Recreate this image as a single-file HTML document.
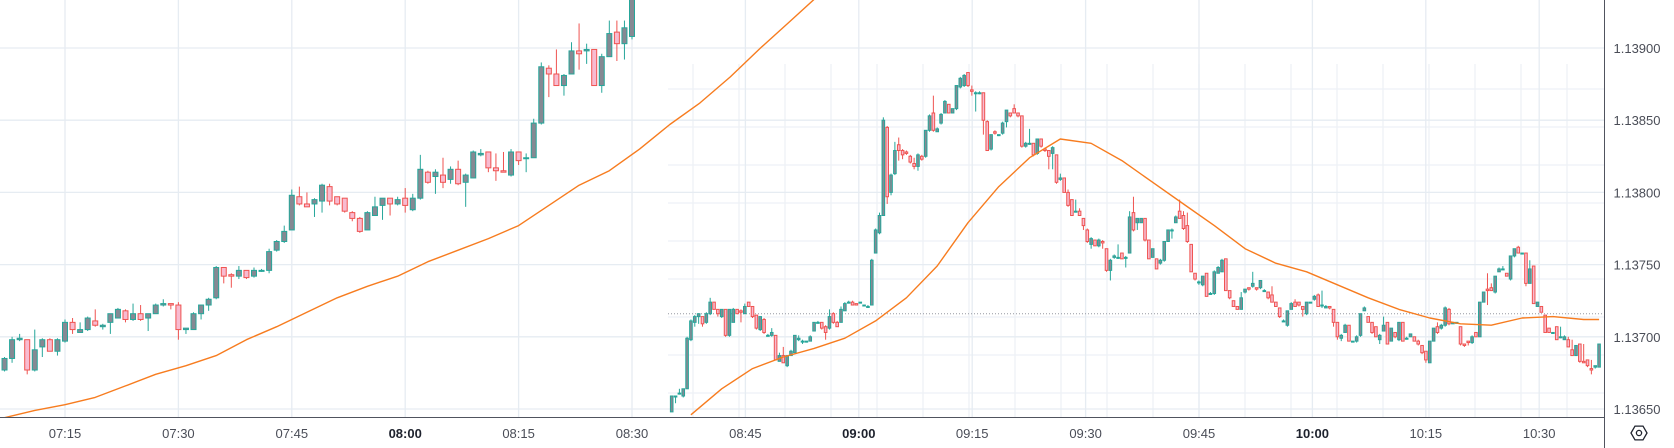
<!DOCTYPE html>
<html><head><meta charset="utf-8"><title>Chart</title>
<style>
html,body{margin:0;padding:0;background:#fff;}
svg{display:block;font-family:"Liberation Sans",sans-serif;}
</style></head>
<body>
<svg id="chart" width="1674" height="448" viewBox="0 0 1674 448" xmlns="http://www.w3.org/2000/svg">
<rect x="0" y="0" width="1674" height="448" fill="#ffffff"/>
<g id="grid"></g>
<g id="plot" clip-path="url(#clipPlot)"></g>
<defs><clipPath id="clipPlot"><rect x="0" y="0" width="1604" height="417"/></clipPath></defs>
<g id="axes"></g>
</svg>
<script>
// ---- data (values in price points above PRICE_BASE; 1 point = 0.00001) ----
const PRICE_BASE = 1.13650;
const priceTicks = [1.13900, 1.13850, 1.13800, 1.13750, 1.13700, 1.13650];
const timeTicks = ["07:15","07:30","07:45","08:00","08:15","08:30","08:45","09:00","09:15","09:30","09:45","10:00","10:15","10:30"];
const timeTickMinutes = [435,450,465,480,495,510,525,540,555,570,585,600,615,630];
const boldTicks = ["08:00","09:00","10:00"];
const lastPricePts = 66;

// left session: 1-minute candles 07:07 .. 08:30
const leftStartMinute = 427;
const leftOpen = [27,35,48,48,27,43,48,40,47,60,53,55,61,57,60,63,68,62,66,63,66,72,73,72,55,55,66,72,77,98,93,92,96,92,96,96,110,116,124,147,142,142,144,154,147,146,136,132,124,134,141,146,142,146,138,146,164,161,162,159,166,157,160,176,178,167,165,162,178,174,174,198,236,232,224,232,248,248,249,224,244,261,253,258];
const leftClose = [35,48,49,27,41,48,40,48,60,55,55,63,58,58,66,69,62,66,62,66,72,73,72,55,56,66,72,76,98,92,92,96,91,96,96,109,116,123,148,142,140,145,155,144,142,137,132,123,136,140,146,142,145,141,146,166,157,164,157,166,156,162,178,177,167,165,164,178,172,174,198,237,232,224,231,248,246,249,224,244,260,253,264,287];
const leftHigh = [36,50,52,48,55,49,49,49,62,63,60,64,69,59,66,70,69,73,72,66,73,76,73,74,56,67,72,77,99,98,94,99,96,98,97,111,117,127,152,154,150,146,156,156,147,146,137,133,137,147,146,146,147,153,149,176,165,166,174,168,172,163,179,180,178,177,178,180,178,177,201,240,238,249,232,254,267,253,249,246,269,269,269,290];
const leftLow = [26,32,47,24,26,36,40,37,46,52,53,54,57,55,52,63,60,61,61,54,66,71,69,48,52,55,62,68,76,87,84,90,90,91,95,94,109,115,124,141,140,133,136,141,141,136,130,122,124,134,131,134,141,136,137,145,156,149,153,156,155,140,160,175,164,158,164,161,169,164,174,197,216,224,217,232,235,239,224,219,244,241,242,256];
const leftEmaIdx = [0,4,8,12,16,20,24,28,32,36,40,44,48,52,56,60,64,68,72,76,80,84,88,92,96,100,104,108,112];
const leftEma = [-6,-1,3,8,16,24,30,37,48,57,67,77,85,92,102,110,118,127,141,155,165,180,197,212,230,250,269,288,307];

// right session: finer candles
const rightOpen = [-2,9,11,9,14,48,60,64,64,60,66,74,69,64,69,51,60,69,68,66,74,71,65,55,62,51,51,51,33,37,30,37,39,48,47,47,47,54,60,60,57,56,66,60,60,68,74,74,73,74,72,71,72,108,122,134,195,150,163,183,179,178,175,170,168,175,175,193,205,192,198,205,211,205,208,223,224,233,221,219,219,219,199,180,192,190,191,199,205,208,205,203,182,184,184,177,187,180,179,177,176,159,160,150,145,137,137,132,124,114,117,113,116,111,96,105,105,108,105,108,136,129,129,132,117,105,104,101,103,116,124,129,137,134,127,114,94,88,86,94,80,80,94,95,104,82,75,71,69,81,84,85,84,84,82,81,79,74,70,61,58,69,74,74,71,66,74,76,79,72,70,71,69,60,49,53,58,47,47,51,68,64,60,57,48,54,60,47,53,48,60,49,50,50,47,44,40,32,47,57,56,58,69,59,60,57,45,47,46,53,50,74,83,84,81,95,97,94,90,106,112,108,108,87,99,71,71,65,56,53,57,50,48,48,41,37,45,33,34,28,29,29];
const rightClose = [9,9,11,14,49,61,64,66,59,66,74,69,66,69,51,69,69,66,67,71,71,64,56,64,53,51,53,34,37,32,37,40,51,49,47,47,50,60,60,56,53,64,60,57,69,73,74,72,72,74,72,71,103,124,134,200,147,162,179,179,176,177,171,168,176,173,193,203,193,194,204,213,205,208,224,229,231,224,220,219,219,200,179,190,191,190,198,207,203,205,203,182,184,184,176,187,182,179,175,181,157,160,150,141,134,137,134,127,116,118,113,117,115,96,103,106,105,104,105,133,124,132,132,117,104,111,97,103,116,124,124,133,132,125,116,95,90,88,92,78,80,95,98,103,82,77,71,69,77,83,83,87,83,89,82,77,74,71,64,61,68,73,71,72,69,74,74,78,71,72,71,70,60,50,51,58,47,47,50,66,70,60,53,50,51,58,45,56,50,60,47,49,52,47,45,39,34,47,56,53,58,70,59,60,60,45,44,46,50,50,74,81,82,82,92,97,97,92,106,111,108,108,87,97,73,74,67,53,53,53,48,50,50,43,37,44,33,32,30,27,30,45];
const rightHigh = [9,9,14,14,50,62,65,66,64,67,77,74,69,69,69,69,70,69,69,73,74,71,65,64,63,52,56,51,39,43,37,41,51,51,48,47,51,60,61,60,58,69,67,61,71,74,75,75,73,74,72,72,104,125,136,202,196,163,185,188,180,179,176,174,177,176,193,204,217,195,205,214,211,208,224,230,232,233,224,220,220,219,200,190,193,190,199,207,205,211,205,203,185,194,184,187,187,181,179,182,176,163,160,152,145,145,139,132,125,119,117,118,117,111,104,107,114,108,106,137,147,132,132,132,117,111,104,104,116,124,125,134,145,137,136,114,94,89,92,94,81,96,99,104,104,82,75,71,81,83,84,95,84,89,83,81,85,74,70,62,68,74,76,74,71,74,74,79,80,82,72,71,69,60,52,59,58,47,51,66,71,64,60,57,52,64,60,56,53,60,60,50,52,50,48,44,40,47,56,60,59,71,70,60,60,57,45,47,51,53,74,81,94,87,92,98,99,94,106,111,113,108,108,103,99,74,71,65,56,53,54,57,51,50,48,41,44,45,33,34,28,30,46];
const rightLow = [-2,4,10,8,14,47,57,59,57,59,65,69,64,63,50,50,60,66,60,66,71,63,55,54,52,51,50,34,33,32,29,37,39,47,45,46,47,54,60,55,48,55,59,57,60,68,73,72,72,74,72,71,72,108,121,134,142,148,162,172,173,176,170,166,165,172,174,192,192,192,197,205,205,205,207,222,223,223,217,206,218,190,179,179,190,189,190,195,202,205,202,181,181,183,175,176,181,178,166,166,156,158,150,140,134,136,134,124,115,111,113,112,111,95,89,104,104,104,98,108,123,124,129,116,104,105,97,100,102,116,118,129,132,124,115,95,89,86,85,78,80,79,94,95,82,76,71,69,69,80,82,84,82,83,82,76,74,71,63,61,57,69,71,71,64,65,74,75,71,70,70,69,57,48,47,53,47,47,46,50,68,60,52,50,45,54,45,47,49,47,47,48,50,47,44,38,32,32,47,52,55,57,58,59,60,44,43,44,45,50,50,74,72,82,80,95,97,92,89,105,108,108,85,87,73,71,67,53,53,52,48,49,48,43,37,37,32,32,29,24,28,29];
const rightEmaIdx = [5,13,21,29,37,45,53,61,69,77,85,93,101,109,117,125,133,141,149,157,165,173,181,189,197,205,213,221,229,237,241];
const rightEma = [-4,14,28,36,42,49,61,77,99,129,154,174,187,184,172,157,142,127,111,101,95,86,77,69,63,59,58,63,64,62,62];

// ---- scales ----
const NS = "http://www.w3.org/2000/svg";
const PLOT_W = 1604, PLOT_H = 417;
function priceOf(pts){ return PRICE_BASE + pts * 0.00001; }
function yScale(price){ return 48 + (1.13900 - price) / 0.0005 * 72.2; }
function yPts(pts){ return yScale(priceOf(pts)); }
function xTime(minute){ return 65 + (minute - 435) * 7.56; }
function xLeft(i){ return xTime(leftStartMinute + i); }
function xRight(j){ return 671.7 + j * 3.848; }

function mk(tag, attrs, parent){
  const el = document.createElementNS(NS, tag);
  for (const k in attrs) el.setAttribute(k, attrs[k]);
  parent.appendChild(el);
  return el;
}
const grid = document.getElementById('grid');
const plot = document.getElementById('plot');
const axes = document.getElementById('axes');

// overlay (right chart) grid
for (let k = 0; k < 20; k++) {
  const gx = 693 + k * 46;
  if (gx > PLOT_W) break;
  const l = mk('line', {x1: gx, x2: gx, y1: 64, y2: PLOT_H, stroke: '#edf1f6', 'stroke-width': 1.3}, grid);
  
  
}
for (let k = 0; k < 9; k++) {
  const gy = 89 + k * 38;
  const l = mk('line', {x1: 668, x2: PLOT_W, y1: gy, y2: gy, stroke: '#edf1f6', 'stroke-width': 1.3}, grid);
  
  
}
// main grid
priceTicks.forEach(p => {
  const gy = yScale(p);
  const l = mk('line', {x1: 0, x2: PLOT_W, y1: gy, y2: gy, stroke: '#e6ecf2', 'stroke-width': 1.3}, grid);
  
  
});
timeTickMinutes.forEach(m => {
  const gx = xTime(m);
  const l = mk('line', {x1: gx, x2: gx, y1: 0, y2: PLOT_H, stroke: '#e6ecf2', 'stroke-width': 1.3}, grid);
  
  
});

// last price dotted line
const lp = mk('line', {x1: 668, x2: PLOT_W, y1: yPts(lastPricePts), y2: yPts(lastPricePts), stroke: '#9598a1', 'stroke-width': 1, 'stroke-dasharray': '1 2'}, plot);



const BULL = '#26a69a', BULL_FILL = '#868993', BEAR = '#ef5350', BEAR_FILL = '#f8bbd0';
function drawCandles(opens, closes, highs, lows, xf, bw, name){
  const g = mk('g', {}, plot);
  
  
  for (let i = 0; i < opens.length; i++) {
    const bull = closes[i] >= opens[i];
    const cx = xf(i);
    const yo = yPts(opens[i]), yc = yPts(closes[i]);
    const yh = yPts(Math.max(highs[i], opens[i], closes[i]));
    const yl = yPts(Math.min(lows[i], opens[i], closes[i]));
    const col = bull ? BULL : BEAR;
    const w = mk('line', {x1: cx, x2: cx, y1: yh, y2: yl, stroke: col, 'stroke-width': 1}, g);
    
    
    const top = Math.min(yo, yc), h = Math.max(1, Math.abs(yo - yc));
    const b = mk('rect', {x: cx - bw / 2, y: top, width: bw, height: h, fill: bull ? BULL_FILL : BEAR_FILL, stroke: col, 'stroke-width': 1}, g);
    
    
  }
}
drawCandles(leftOpen, leftClose, leftHigh, leftLow, xLeft, 5, 'left-candles');
drawCandles(rightOpen, rightClose, rightHigh, rightLow, xRight, 2.6, 'right-candles');

function drawLine(idx, vals, xf, name){
  const pts = idx.map((ix, k) => xf(ix).toFixed(1) + ',' + yPts(vals[k]).toFixed(1)).join(' ');
  const pl = mk('polyline', {points: pts, fill: 'none', stroke: '#f77c1f', 'stroke-width': 1.4, 'stroke-linejoin': 'round'}, plot);
  
  
}
drawLine(leftEmaIdx, leftEma, xLeft, 'left-moving-average');
drawLine(rightEmaIdx, rightEma, xRight, 'right-moving-average');

// axes
const ax1 = mk('line', {x1: 0, x2: PLOT_W, y1: 417.5, y2: 417.5, stroke: '#50535e', 'stroke-width': 1}, axes);


const ax2 = mk('line', {x1: 1604.5, x2: 1604.5, y1: 0, y2: 448, stroke: '#50535e', 'stroke-width': 1}, axes);



priceTicks.forEach(p => {
  const t = mk('text', {x: 1637, y: yScale(p) + 5, 'text-anchor': 'middle', 'font-size': 13, fill: '#4a4d57'}, axes);
  t.textContent = p.toFixed(5);
  
  
});
timeTicks.forEach((lab, k) => {
  const bold = boldTicks.indexOf(lab) >= 0;
  const t = mk('text', {x: xTime(timeTickMinutes[k]), y: 438, 'text-anchor': 'middle', 'font-size': 13, fill: bold ? '#1e222d' : '#4a4d57', 'font-weight': bold ? 'bold' : 'normal'}, axes);
  t.textContent = lab;
  
  
});

// settings icon
const sg = mk('g', {}, axes);


const cx = 1639, cy = 433, r = 8;
let hp = [];
for (let k = 0; k < 6; k++) { const a = Math.PI / 3 * k; hp.push((cx + r * Math.cos(a)).toFixed(1) + ',' + (cy + r * Math.sin(a)).toFixed(1)); }
mk('polygon', {points: hp.join(' '), fill: 'none', stroke: '#1e222d', 'stroke-width': 1.3}, sg);
mk('circle', {cx: cx, cy: cy, r: 2.6, fill: 'none', stroke: '#1e222d', 'stroke-width': 1.3}, sg);
</script>
</body></html>
